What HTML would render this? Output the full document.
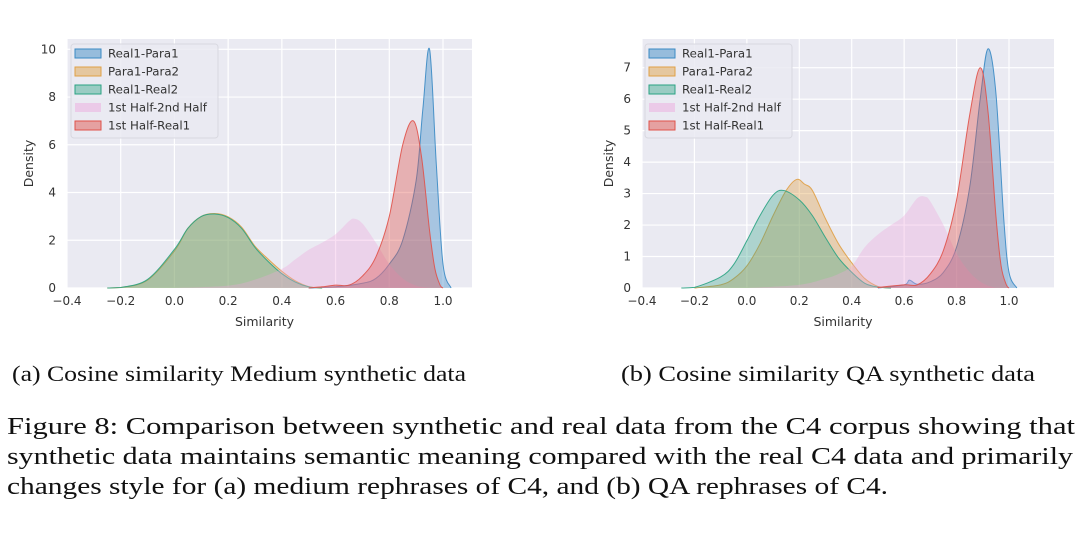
<!DOCTYPE html>
<html><head><meta charset="utf-8">
<style>
html,body{margin:0;padding:0;background:#fff;}
body{width:1080px;height:539px;overflow:hidden;position:relative;}
svg{position:absolute;left:0;top:0;}
</style></head>
<body>
<svg id="fig" width="1080" height="539" viewBox="0 0 1080 539">
  <text x="12" y="381" font-family="Liberation Serif, serif" font-size="22" fill="#111" textLength="454" lengthAdjust="spacingAndGlyphs">(a) Cosine similarity Medium synthetic data</text>
  <text x="621" y="381" font-family="Liberation Serif, serif" font-size="22" fill="#111" textLength="414" lengthAdjust="spacingAndGlyphs">(b) Cosine similarity QA synthetic data</text>
  <g font-family="Liberation Serif, serif" font-size="24.5" fill="#111">
    <text x="7" y="434" textLength="1068" lengthAdjust="spacingAndGlyphs">Figure 8: Comparison between synthetic and real data from the C4 corpus showing that</text>
    <text x="7" y="464" textLength="1066" lengthAdjust="spacingAndGlyphs">synthetic data maintains semantic meaning compared with the real C4 data and primarily</text>
    <text x="7" y="494" textLength="881" lengthAdjust="spacingAndGlyphs">changes style for (a) medium rephrases of C4, and (b) QA rephrases of C4.</text>
  </g>
</svg>
<script>
const seriesNames = ["Real1-Para1","Para1-Para2","Real1-Real2","1st Half-2nd Half","1st Half-Real1"];
const xTickLabels = ["\u22120.4","\u22120.2","0.0","0.2","0.4","0.6","0.8","1.0"];
const xTickValues = [-0.4,-0.2,0,0.2,0.4,0.6,0.8,1.0];
const leftYTicks = [0,2,4,6,8,10];
const rightYTicks = [0,1,2,3,4,5,6,7];

// ---- left chart (Medium) ----
const L_blueX = [0.5,0.6,0.7,0.75,0.8,0.85,0.9,0.925,0.95,0.975,1.0,1.03];
const L_blueY = [0,0.05,0.2,0.4,1,2,4.5,7.5,10,5.2,1,0];
const L_orangeX = [-0.25,-0.2,-0.1,0,0.05,0.1,0.15,0.2,0.25,0.3,0.35,0.4,0.45,0.5,0.55];
const L_orangeY = [0,0.02,0.33,1.55,2.5,3.0,3.12,2.98,2.55,1.75,1.2,0.7,0.3,0.06,0];
const L_greenX = [-0.25,-0.2,-0.1,0,0.05,0.1,0.15,0.2,0.25,0.3,0.35,0.4,0.45,0.5,0.55];
const L_greenY = [0,0.02,0.36,1.62,2.5,3.0,3.1,2.95,2.5,1.7,1.1,0.6,0.25,0.05,0];
const L_pinkX = [0.0,0.2,0.3,0.4,0.45,0.5,0.55,0.6,0.65,0.67,0.7,0.75,0.8,0.85,0.9,0.95];
const L_pinkY = [0,0.1,0.35,0.8,1.2,1.6,1.9,2.25,2.8,2.9,2.7,1.9,1.0,0.4,0.1,0];
const L_redX = [0.5,0.55,0.6,0.65,0.7,0.75,0.8,0.85,0.89,0.92,0.95,0.97,0.99,1.0];
const L_redY = [0,0.05,0.12,0.12,0.5,1.3,3.0,6.0,7.0,5.5,2.4,0.8,0.1,0];

// ---- right chart (QA) ----
const R_blueX = [0.5,0.6,0.62,0.65,0.7,0.75,0.8,0.85,0.89,0.92,0.95,0.98,1.0,1.03];
const R_blueY = [0,0.1,0.25,0.12,0.2,0.5,1.3,3.2,6,7.6,6.2,2.2,0.5,0];
const R_orangeX = [-0.2,-0.1,-0.05,0,0.05,0.1,0.15,0.19,0.22,0.25,0.3,0.35,0.4,0.45,0.5,0.55];
const R_orangeY = [0,0.1,0.3,0.7,1.4,2.3,3.1,3.45,3.3,3.1,2.2,1.4,0.8,0.3,0.05,0];
const R_greenX = [-0.25,-0.2,-0.1,-0.05,0,0.05,0.1,0.14,0.2,0.25,0.3,0.35,0.4,0.45,0.5,0.55];
const R_greenY = [0,0.02,0.35,0.75,1.5,2.3,2.95,3.1,2.8,2.3,1.6,0.95,0.5,0.15,0.03,0];
const R_pinkX = [0.0,0.2,0.3,0.35,0.4,0.45,0.5,0.55,0.6,0.65,0.68,0.7,0.75,0.8,0.85,0.9,0.95];
const R_pinkY = [0,0.1,0.3,0.45,0.7,1.3,1.7,2.0,2.3,2.85,2.9,2.75,2.0,1.1,0.5,0.15,0];
const R_redX = [0.5,0.6,0.65,0.7,0.75,0.8,0.85,0.89,0.92,0.95,0.97,0.99,1.0];
const R_redY = [0.02,0.1,0.1,0.45,1.2,2.8,5.5,7,5.6,2.3,0.7,0.1,0];

const colors = ["#3a8ac4","#e0a046","#2aa383","#eda5dc","#e0524a"];
const fillOp = [0.38,0.38,0.32,0.35,0.38];
const NS = "http://www.w3.org/2000/svg";
const svg = document.getElementById("fig");

function mk(tag, attrs, parent){
  const e = document.createElementNS(NS, tag);
  for (const k in attrs) e.setAttribute(k, attrs[k]);
  parent.appendChild(e);
  return e;
}

function drawChart(opt){
  const g = mk("g", {}, svg);
  
  
  const {x0,x1,y0,y1} = opt;
  const sx = v => opt.ax + (v - (-0.4)) * opt.kx;
  const sy = v => y1 - v * opt.ky;
  const bg = mk("rect", {x:x0,y:y0,width:x1-x0,height:y1-y0,fill:"#eaeaf2"}, g);
  
  
  xTickValues.forEach((v,i)=>{
    const X = sx(v);
    const ln = mk("line", {x1:X,x2:X,y1:y0,y2:y1,stroke:"#fff","stroke-width":1.2}, g);
    
    
    const t = mk("text", {x:X,y:y1+17,"text-anchor":"middle","font-family":"DejaVu Sans, sans-serif","font-size":12,fill:"#333"}, g);
    t.textContent = xTickLabels[i];
    
    
  });
  opt.yTicks.forEach(v=>{
    const Y = sy(v);
    const ln = mk("line", {x1:x0,x2:x1,y1:Y,y2:Y,stroke:"#fff","stroke-width":1.2}, g);
    
    
    const t = mk("text", {x:x0-11,y:Y+4,"text-anchor":"end","font-family":"DejaVu Sans, sans-serif","font-size":12,fill:"#333"}, g);
    t.textContent = String(v);
    
    
  });
  [0,1,2,3,4].forEach(i=>{
    const xs = opt.xs[i], ys = opt.ys[i];
    const pts = xs.map((v,j)=>[sx(v), sy(ys[j])]);
    let d = "M"+pts[0][0]+","+y1+" L"+pts[0][0]+","+pts[0][1];
    for (let j=0;j<pts.length-1;j++){
      const p0 = pts[Math.max(0,j-1)], p1 = pts[j], p2 = pts[j+1], p3 = pts[Math.min(pts.length-1,j+2)];
      const c1x = p1[0]+(p2[0]-p0[0])/6, c1y = Math.min(y1, p1[1]+(p2[1]-p0[1])/6);
      const c2x = p2[0]-(p3[0]-p1[0])/6, c2y = Math.min(y1, p2[1]-(p3[1]-p1[1])/6);
      d += " C"+c1x+","+c1y+" "+c2x+","+c2y+" "+p2[0]+","+p2[1];
    }
    const area = mk("path", {d:d+" Z", fill:colors[i], "fill-opacity":fillOp[i], stroke:"none"}, g);
    
    
    if (i !== 3){
      const line = mk("path", {d:d, fill:"none", stroke:colors[i], "stroke-width":1, "stroke-opacity":0.9}, g);
      
      
    }
  });
  const xt = mk("text", {x:(x0+x1)/2 - 5, y:y1+38, "text-anchor":"middle","font-family":"DejaVu Sans, sans-serif","font-size":12.5,fill:"#333"}, g);
  xt.textContent = "Similarity";
  
  
  const yt = mk("text", {x:0,y:0,transform:"translate("+(opt.ylabX)+","+((y0+y1)/2)+") rotate(-90)","text-anchor":"middle","font-family":"DejaVu Sans, sans-serif","font-size":12.5,fill:"#333"}, g);
  yt.textContent = "Density";
  
  
  const lg = mk("g", {}, g);
  
  
  const lx = opt.legX, ly = 44;
  mk("rect", {x:lx,y:ly,width:147,height:94,rx:3,fill:"#eaeaf2","fill-opacity":0.85,stroke:"#d8d8e0"}, lg);
  seriesNames.forEach((n,i)=>{
    const yy = ly + 9 + i*18;
    const sw = mk("rect", {x:lx+4,y:yy-4,width:26,height:9,fill:colors[i],"fill-opacity":fillOp[i]+0.1,stroke:i===3?"none":colors[i],"stroke-width":1}, lg);
    
    
    const t = mk("text", {x:lx+37,y:yy+4.5,"font-family":"DejaVu Sans, sans-serif","font-size":11.8,fill:"#333"}, lg);
    t.textContent = n;
    
    
  });
}

drawChart({name:"chart-medium", x0:67,x1:472,y0:39,y1:288, ax:67,kx:(443-67)/1.4, ky:(288-49.3)/10,
  yTicks:leftYTicks, ylabX:33, legX:71,
  xs:[L_blueX,L_orangeX,L_greenX,L_pinkX,L_redX], ys:[L_blueY,L_orangeY,L_greenY,L_pinkY,L_redY]});
drawChart({name:"chart-qa", x0:642,x1:1054,y0:39,y1:288, ax:642,kx:(1009-642)/1.4, ky:(288-67.7)/7,
  yTicks:rightYTicks, ylabX:613, legX:645,
  xs:[R_blueX,R_orangeX,R_greenX,R_pinkX,R_redX], ys:[R_blueY,R_orangeY,R_greenY,R_pinkY,R_redY]});
</script>
</body></html>
